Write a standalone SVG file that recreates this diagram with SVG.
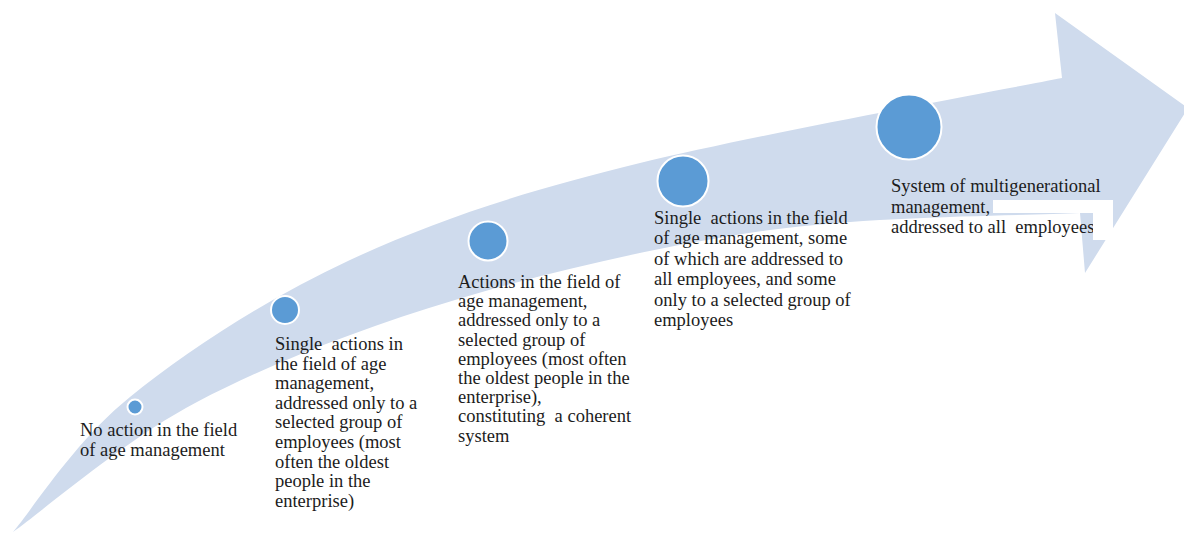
<svg xmlns="http://www.w3.org/2000/svg" width="1184" height="534" viewBox="0 0 1184 534">
  <style>
    .band { fill: #cfdbed; }
    .dot { fill: #5b9bd5; stroke: #ffffff; stroke-width: 2; }
    .lbl { font-family: "Liberation Serif", "Times New Roman", serif; font-size: 18.5px; fill: #1c1c1c; white-space: pre; }
  </style>
  <rect width="1184" height="534" fill="#ffffff"/>

  <!-- curved rising arrow -->
  <g id="connectors">
    <path class="band" d="M13,532 C32.5,509.5 73.8,442.3 130,397 C186.2,351.7 265,299.5 350,260 C435,220.5 521.3,192 640,163 C758.7,134 991.7,91.7 1062,78 L1055,13 L1188,108 L1085,273 L1080,213 C1028.3,215.8 874.2,215.5 770,230 C665.8,244.5 550.5,271.3 455,300 C359.5,328.7 270.7,363.3 197,402 C123.3,440.7 43.7,510.3 13,532 Z"/>
  </g>

  <g id="stage1">
    <circle class="dot" cx="135" cy="407" r="7.5"/>
    <text class="lbl" x="80" y="436">No action in the field</text>
    <text class="lbl" x="80" y="456">of age management</text>
  </g>

  <g id="stage2">
    <circle class="dot" cx="285" cy="310" r="14"/>
    <text class="lbl" x="275" y="350">Single  actions in</text>
    <text class="lbl" x="275" y="369.6">the field of age</text>
    <text class="lbl" x="275" y="389.2">management,</text>
    <text class="lbl" x="275" y="408.8">addressed only to a</text>
    <text class="lbl" x="275" y="428.4">selected group of</text>
    <text class="lbl" x="275" y="448">employees (most</text>
    <text class="lbl" x="275" y="467.6">often the oldest</text>
    <text class="lbl" x="275" y="487.2">people in the</text>
    <text class="lbl" x="275" y="506.8">enterprise)</text>
  </g>

  <g id="stage3">
    <circle class="dot" cx="488" cy="241" r="19.5"/>
    <text class="lbl" x="458" y="288">Actions in the field of</text>
    <text class="lbl" x="458" y="307.2">age management,</text>
    <text class="lbl" x="458" y="326.4">addressed only to a</text>
    <text class="lbl" x="458" y="345.6">selected group of</text>
    <text class="lbl" x="458" y="364.8">employees (most often</text>
    <text class="lbl" x="458" y="384">the oldest people in the</text>
    <text class="lbl" x="458" y="403.2">enterprise),</text>
    <text class="lbl" x="458" y="422.4">constituting  a coherent</text>
    <text class="lbl" x="458" y="441.6">system</text>
  </g>

  <g id="stage4">
    <circle class="dot" cx="683" cy="181" r="25.5"/>
    <text class="lbl" x="654" y="224">Single  actions in the field</text>
    <text class="lbl" x="654" y="244.4">of age management, some</text>
    <text class="lbl" x="654" y="264.8">of which are addressed to</text>
    <text class="lbl" x="654" y="285.2">all employees, and some</text>
    <text class="lbl" x="654" y="305.6">only to a selected group of</text>
    <text class="lbl" x="654" y="326">employees</text>
  </g>

  <g id="stage5">
    <circle class="dot" cx="909" cy="127" r="32.5"/>
    <text class="lbl" x="891" y="192">System of multigenerational</text>
    <text class="lbl" x="891" y="212.5">management,</text>
    <text class="lbl" x="891" y="233">addressed to all  employees</text>
    <!-- blanked-out patches over the label -->
    <rect x="993" y="200" width="120" height="13" fill="#ffffff"/>
    <rect x="1093" y="213" width="20" height="27" fill="#ffffff"/>
  </g>
</svg>
